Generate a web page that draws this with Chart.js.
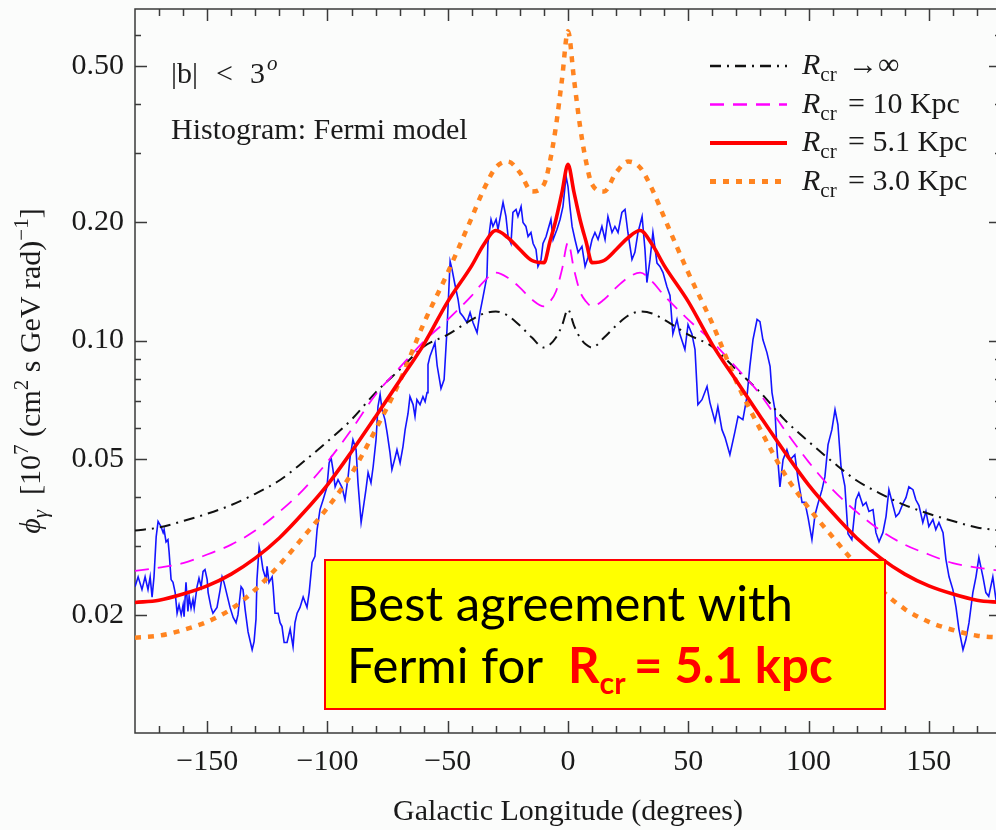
<!DOCTYPE html>
<html>
<head>
<meta charset="utf-8">
<script src="https://cdn.jsdelivr.net/npm/chart.js@4.4.1/dist/chart.umd.min.js"></script>
<style>
  html, body { margin: 0; padding: 0; overflow: hidden; background: #fbfcfb; }
  canvas { display: block; }
</style>
</head>
<body>
<canvas id="flux" width="1010" height="830"></canvas>
<script>
// longitude grid (deg) shared by the four model curves
const modelLon = [-180, -170, -160, -150, -140, -130, -120, -110, -100, -90, -80, -70, -60, -50, -40, -35, -30, -25, -20, -15, -10, -7.5, -5, -2.5,
  0, 2.5, 5, 7.5, 10, 15, 20, 25, 30, 35, 40, 50, 60, 70, 80, 90, 100, 110, 120, 130, 140, 150, 160, 170, 180];

// model fluxes for each cosmic-ray radius
const fluxInf = [0.0328, 0.0334, 0.0347, 0.0362, 0.0381, 0.0407, 0.0440, 0.0491, 0.0553, 0.0629, 0.0737, 0.0843, 0.0965, 0.1036, 0.1131, 0.1172, 0.1186, 0.1158, 0.1092, 0.1018, 0.0960, 0.0977, 0.1018, 0.1092,
  0.1200, 0.1092, 0.1018, 0.0977, 0.0960, 0.1018, 0.1092, 0.1158, 0.1186, 0.1172, 0.1131, 0.1036, 0.0965, 0.0843, 0.0737, 0.0629, 0.0553, 0.0491, 0.0440, 0.0407, 0.0381, 0.0362, 0.0347, 0.0334, 0.0328];
const flux10 = [0.0259, 0.0264, 0.0271, 0.0285, 0.0302, 0.0328, 0.0366, 0.0417, 0.0491, 0.0593, 0.0728, 0.0853, 0.0994, 0.1131, 0.1302, 0.1414, 0.1491, 0.1447, 0.1365, 0.1273, 0.1222, 0.1258, 0.1334, 0.1518,
  0.1780, 0.1518, 0.1334, 0.1258, 0.1222, 0.1273, 0.1365, 0.1447, 0.1491, 0.1414, 0.1302, 0.1131, 0.0994, 0.0853, 0.0728, 0.0593, 0.0491, 0.0417, 0.0366, 0.0328, 0.0302, 0.0285, 0.0271, 0.0264, 0.0259];
const flux51 = [0.0215, 0.0218, 0.0226, 0.0237, 0.0254, 0.0279, 0.0314, 0.0364, 0.0429, 0.0521, 0.0640, 0.0790, 0.0977, 0.1257, 0.1553, 0.1758, 0.1908, 0.1830, 0.1707, 0.1600, 0.1580, 0.1789, 0.2036, 0.2386,
  0.2812, 0.2386, 0.2036, 0.1789, 0.1580, 0.1600, 0.1707, 0.1830, 0.1908, 0.1758, 0.1553, 0.1257, 0.0977, 0.0790, 0.0640, 0.0521, 0.0429, 0.0364, 0.0314, 0.0279, 0.0254, 0.0237, 0.0226, 0.0218, 0.0215];
const flux30 = [0.0175, 0.0177, 0.0183, 0.0192, 0.0207, 0.0232, 0.0268, 0.0316, 0.0375, 0.0458, 0.0593, 0.0786, 0.1105, 0.1490, 0.2060, 0.2430, 0.2760, 0.2860, 0.2680, 0.2400, 0.2500, 0.2860, 0.3520, 0.4630,
  0.6140, 0.4630, 0.3520, 0.2860, 0.2500, 0.2400, 0.2680, 0.2860, 0.2760, 0.2430, 0.2060, 0.1490, 0.1105, 0.0786, 0.0593, 0.0458, 0.0375, 0.0316, 0.0268, 0.0232, 0.0207, 0.0192, 0.0183, 0.0177, 0.0175];

// Fermi histogram (longitude in deg, flux)
const fermiLon = [
  -180, -178.7, -177.1, -175.8, -174.6, -173.7, -172.9, -172.1, -171.2, -170.4,
  -169.2, -168.3, -167.9, -167.1, -166.3, -165.8, -165.0, -164.2, -163.3, -162.5,
  -161.7, -160.8, -160.0, -159.6, -158.8, -158.0, -157.5, -156.7, -155.9, -155.4,
  -154.2, -153.4, -152.5, -151.7, -150.9, -150.0, -149.6, -148.4, -147.6, -145.9,
  -144.6, -143.8, -143.0, -141.3, -140.5, -139.2, -138.0, -137.2, -135.9, -135.1,
  -134.2, -133.0, -131.3, -130.5, -129.7, -129.3, -128.4, -127.6, -126.8, -125.5,
  -125.1, -124.3, -123.0, -122.6, -121.8, -120.5, -119.7, -118.9, -118.0, -116.8,
  -115.5, -114.3, -113.5, -112.6, -111.4, -110.1, -108.5, -107.6, -106.4, -105.2,
  -104.3, -103.1, -101.8, -100.2, -99.3, -98.5, -97.7, -96.8, -95.6, -93.9,
  -92.7, -91.4, -90.6, -89.4, -88.1, -87.3, -86.0, -85.2, -84.0, -83.1,
  -81.9, -81.0, -79.8, -79.0, -78.1, -77.3, -76.1, -75.2, -74.0, -73.2,
  -71.9, -71.1, -69.8, -68.6, -67.7, -66.5, -65.7, -64.4, -63.6, -62.8,
  -61.5, -60.3, -59.4, -58.6, -58.2, -57.4, -55.3, -54.4, -52.8, -51.5,
  -50.3, -49.0, -48.2, -47.0, -45.7, -44.9, -43.6, -42.0, -40.7, -39.5,
  -37.8, -36.6, -35.3, -33.7, -33.3, -32.0, -31.2, -29.9, -29.1, -27.8,
  -27.0, -25.8, -24.9, -23.7, -22.9, -21.6, -20.8, -19.5, -18.7, -17.5,
  -16.6, -15.4, -14.5, -13.3, -12.5, -11.2, -10.4, -9.1, -8.3, -7.1,
  -6.2, -4.6, -3.3, -2.1, -0.8, 0, 0.8, 1.7, 2.9, 4.2,
  5.8, 7.1, 8.3, 10.0, 11.2, 12.5, 14.1, 15.4, 16.6, 18.3,
  19.5, 20.8, 22.4, 23.7, 24.9, 26.6, 27.8, 29.1, 30.8, 32.0,
  32.8, 34.1, 35.3, 37.0, 38.2, 39.5, 41.1, 42.4, 43.6, 45.3,
  46.5, 48.6, 49.9, 51.5, 52.8, 54.0, 55.7, 57.8, 59.0, 61.1,
  62.3, 64.0, 65.3, 67.3, 69.4, 70.7, 72.7, 74.4, 75.6, 76.9,
  78.6, 79.8, 81.0, 82.7, 84.0, 84.8, 86.0, 86.9, 88.1, 89.4,
  91.0, 92.3, 94.3, 95.6, 97.3, 98.5, 99.8, 101.4, 102.7, 103.9,
  105.6, 106.8, 108.1, 109.7, 111.0, 112.2, 113.5, 115.1, 116.4, 118.0,
  119.7, 120.9, 122.6, 123.9, 125.1, 126.8, 128.0, 129.3, 130.9, 132.2,
  133.4, 135.1, 136.3, 137.6, 139.2, 140.5, 141.7, 143.4, 144.6, 145.9,
  147.5, 148.8, 150.0, 151.7, 152.9, 154.2, 155.9, 157.1, 158.4, 160.0,
  161.3, 162.5, 164.2, 165.4, 166.7, 168.3, 169.6, 170.8, 172.5, 173.7,
  174.9, 176.6, 177.9, 180
];
const fermiFlux = [
  0.0236, 0.0250, 0.0232, 0.0250, 0.0232, 0.0250, 0.0222, 0.0250, 0.0316, 0.0346,
  0.0336, 0.0324, 0.0330, 0.0307, 0.0311, 0.0288, 0.0246, 0.0242, 0.0228, 0.0202,
  0.0212, 0.0200, 0.0212, 0.0198, 0.0242, 0.0204, 0.0223, 0.0208, 0.0219, 0.0208,
  0.0236, 0.0248, 0.0236, 0.0258, 0.0261, 0.0246, 0.0228, 0.0209, 0.0202, 0.0209,
  0.0232, 0.0250, 0.0242, 0.0219, 0.0209, 0.0197, 0.0191, 0.0200, 0.0236, 0.0232,
  0.0206, 0.0181, 0.0163, 0.0171, 0.0195, 0.0246, 0.0298, 0.0282, 0.0261, 0.0246,
  0.0266, 0.0242, 0.0250, 0.0236, 0.0202, 0.0202, 0.0191, 0.0187, 0.0170, 0.0170,
  0.0184, 0.0166, 0.0191, 0.0202, 0.0209, 0.0222, 0.0209, 0.0228, 0.0272, 0.0282,
  0.0330, 0.0371, 0.0393, 0.0424, 0.0488, 0.0503, 0.0469, 0.0424, 0.0442, 0.0422,
  0.0393, 0.0450, 0.0503, 0.0559, 0.0527, 0.0434, 0.0344, 0.0371, 0.0417, 0.0461,
  0.0434, 0.0477, 0.0559, 0.0679, 0.0729, 0.0667, 0.0629, 0.0583, 0.0518, 0.0469,
  0.0503, 0.0527, 0.0488, 0.0537, 0.0593, 0.0652, 0.0720, 0.0687, 0.0641, 0.0707,
  0.0687, 0.0720, 0.0699, 0.0737, 0.0869, 0.0911, 0.0988, 0.0864, 0.0755, 0.0796,
  0.1067, 0.1591, 0.1518, 0.1390, 0.1273, 0.1179, 0.1152, 0.1112, 0.1179, 0.1112,
  0.1048, 0.1179, 0.1295, 0.1457, 0.1768, 0.2036, 0.1954, 0.2036, 0.1920, 0.2121,
  0.2250, 0.2072, 0.1842, 0.1768, 0.2121, 0.2159, 0.2072, 0.2196, 0.2000, 0.1954,
  0.1842, 0.1886, 0.1768, 0.1707, 0.1545, 0.1610, 0.1768, 0.1842, 0.1920, 0.2036,
  0.1810, 0.1920, 0.2036, 0.2196, 0.2622, 0.2470, 0.2196, 0.1954, 0.1810, 0.1678,
  0.1738, 0.1545, 0.1629, 0.1810, 0.1886, 0.1810, 0.1954, 0.1810, 0.2072, 0.1886,
  0.1954, 0.1886, 0.2121, 0.2159, 0.1886, 0.1610, 0.1678, 0.1886, 0.2072, 0.1707,
  0.1406, 0.1610, 0.1886, 0.1576, 0.1545, 0.1491, 0.1374, 0.1303, 0.1040, 0.1132,
  0.1040, 0.0949, 0.1099, 0.1040, 0.0949, 0.0687, 0.0707, 0.0764, 0.0695, 0.0622,
  0.0679, 0.0593, 0.0566, 0.0512, 0.0586, 0.0641, 0.0629, 0.0720, 0.0860, 0.1006,
  0.1132, 0.1118, 0.1006, 0.0932, 0.0860, 0.0737, 0.0667, 0.0527, 0.0424, 0.0497,
  0.0527, 0.0497, 0.0512, 0.0445, 0.0387, 0.0387, 0.0354, 0.0311, 0.0360, 0.0384,
  0.0417, 0.0450, 0.0543, 0.0593, 0.0667, 0.0611, 0.0477, 0.0426, 0.0322, 0.0311,
  0.0393, 0.0409, 0.0380, 0.0387, 0.0367, 0.0371, 0.0324, 0.0307, 0.0324, 0.0356,
  0.0417, 0.0380, 0.0356, 0.0363, 0.0384, 0.0398, 0.0424, 0.0417, 0.0393, 0.0380,
  0.0344, 0.0367, 0.0336, 0.0350, 0.0330, 0.0344, 0.0324, 0.0277, 0.0250, 0.0232,
  0.0209, 0.0184, 0.0163, 0.0173, 0.0191, 0.0228, 0.0250, 0.0280, 0.0250, 0.0228,
  0.0223, 0.0250, 0.0219, 0.0235
];

// axis ticks
const xMajor = [-150, -100, -50, 0, 50, 100, 150];
const xMinor = [-170, -160, -140, -130, -120, -110, -90, -80, -70, -60, -40, -30, -20, -10,
  10, 20, 30, 40, 60, 70, 80, 90, 110, 120, 130, 140, 160, 170];
const yMajor = [0.02, 0.05, 0.1, 0.2, 0.5];
const yMinor = [0.03, 0.04, 0.06, 0.07, 0.08, 0.09, 0.3, 0.4, 0.6];

const SERIF = "'Liberation Serif', 'Times New Roman', serif";
const BOX_FONT = "Lato, 'Open Sans', sans-serif";

const pts = (xs, ys) => xs.map((x, i) => ({ x, y: ys[i] }));

// legend rows: label after the "R_cr" part, style copied from the dataset
const legendRows = [
  { tail: '\u2192\u221E', ds: 1 },
  { tail: '= 10 Kpc', ds: 2 },
  { tail: '= 5.1 Kpc', ds: 3 },
  { tail: '= 3.0 Kpc', ds: 4 }
];

const fmtLon = v => (v < 0 ? '\u2212' + Math.abs(v) : String(v));

// background colour
const paper = {
  id: 'paper',
  beforeDraw(chart) {
    const { ctx, width, height } = chart;
    ctx.save();
    ctx.fillStyle = '#fbfcfb';
    ctx.fillRect(0, 0, width, height);
    ctx.restore();
  }
};

// frame with inward ticks on all four sides
const frame = {
  id: 'frame',
  beforeDatasetsDraw(chart) {
    const { ctx, chartArea: a, scales: { x, y } } = chart;
    ctx.save();
    ctx.strokeStyle = '#3a3a3a';
    ctx.lineWidth = 1.5;
    ctx.strokeRect(a.left, a.top, a.right - a.left, a.bottom - a.top);
    ctx.beginPath();
    const xt = (v, len) => {
      const px = Math.round(x.getPixelForValue(v)) + 0.5;
      ctx.moveTo(px, a.bottom); ctx.lineTo(px, a.bottom - len);
      ctx.moveTo(px, a.top); ctx.lineTo(px, a.top + len);
    };
    const yt = (v, len) => {
      const py = Math.round(y.getPixelForValue(v)) + 0.5;
      ctx.moveTo(a.left, py); ctx.lineTo(a.left + len, py);
      ctx.moveTo(a.right, py); ctx.lineTo(a.right - len, py);
    };
    xMajor.forEach(v => xt(v, 12));
    xMinor.forEach(v => xt(v, 7));
    yMajor.forEach(v => yt(v, 12));
    yMinor.forEach(v => yt(v, 6));
    ctx.stroke();
    ctx.restore();
  }
};

// draws a run of text pieces: [text, font, dy, color]
function drawRun(ctx, x, y, pieces) {
  let cx = x;
  pieces.forEach(([t, font, dy, color]) => {
    ctx.font = font;
    ctx.fillStyle = color || '#1a1a1a';
    ctx.fillText(t, cx, y + (dy || 0));
    cx += ctx.measureText(t).width;
  });
  return cx;
}

function runWidth(ctx, pieces) {
  let w = 0;
  pieces.forEach(([t, font]) => { ctx.font = font; w += ctx.measureText(t).width; });
  return w;
}

const notes = {
  id: 'notes',
  afterDatasetsDraw(chart) {
    const { ctx, chartArea: a } = chart;
    ctx.save();
    ctx.textBaseline = 'alphabetic';
    ctx.textAlign = 'left';

    // y axis title, rotated
    const big = `30px ${SERIF}`, small = `21px ${SERIF}`;
    const ital = `italic 30px ${SERIF}`, italSmall = `italic 21px ${SERIF}`;
    const yTitle = [
      ['\u03D5', ital, 0], ['\u03B3', italSmall, 7], ['  [10', big, 0], ['7', small, -12],
      [' (cm', big, 0], ['2', small, -12], [' s GeV rad)', big, 0], ['\u22121', small, -12], [']', big, 0]
    ];
    const tw = runWidth(ctx, yTitle);
    ctx.save();
    ctx.translate(40, (a.top + a.bottom) / 2);
    ctx.rotate(-Math.PI / 2);
    drawRun(ctx, -tw / 2, 0, yTitle);
    ctx.restore();

    // region and histogram notes
    ctx.font = big;
    ctx.fillStyle = '#1a1a1a';
    ctx.fillText('|b|', 171, 83);
    ctx.fillText('<', 216, 83);
    ctx.fillText('3', 250, 83);
    ctx.font = italSmall;
    ctx.fillText('o', 267, 70);
    ctx.font = big;
    ctx.fillText('Histogram: Fermi model', 171, 139);

    // legend
    legendRows.forEach((row, i) => {
      const ds = chart.data.datasets[row.ds];
      const cy = 66 + i * 38.5;
      ctx.save();
      ctx.strokeStyle = ds.borderColor;
      ctx.lineWidth = ds.borderWidth + 0.5;
      ctx.setLineDash(ds.borderDash || []);
      ctx.beginPath();
      ctx.moveTo(710, cy);
      ctx.lineTo(787, cy);
      ctx.stroke();
      ctx.restore();
      drawRun(ctx, 802, cy + 8, [['R', ital, 0], ['cr', small, 7]]);
      ctx.font = big;
      ctx.fillStyle = '#1a1a1a';
      ctx.fillText(row.tail, 848, cy + 8);
    });

    // highlighted conclusion box
    ctx.fillStyle = '#ffff00';
    ctx.fillRect(325, 560, 560, 149);
    ctx.strokeStyle = '#ff0000';
    ctx.lineWidth = 2;
    ctx.strokeRect(325, 560, 560, 149);

    const line1 = 'Best agreement with';
    ctx.font = `50px ${BOX_FONT}`;
    const size = 50 * 446 / ctx.measureText(line1).width;
    ctx.font = `${size}px ${BOX_FONT}`;
    ctx.fillStyle = '#000';
    ctx.fillText(line1, 347, 621);
    ctx.fillText('Fermi for', 347, 683);
    const bold = `bold ${size}px ${BOX_FONT}`;
    const boldSmall = `bold ${size * 0.62}px ${BOX_FONT}`;
    drawRun(ctx, 568, 683, [['R', bold, 0, '#ff0000'], ['cr', boldSmall, 11, '#ff0000']]);
    ctx.font = bold;
    ctx.fillStyle = '#ff0000';
    ctx.fillText('= 5.1 kpc', 634, 683);

    ctx.restore();
  }
};

const ctx = document.getElementById('flux').getContext('2d');
const chart = new Chart(ctx, {
  type: 'line',
  data: {
    datasets: [
      {
        label: 'Fermi',
        data: pts(fermiLon, fermiFlux),
        borderColor: '#1414ff',
        borderWidth: 1.6,
        tension: 0,
        order: 5
      },
      {
        label: 'Rcr inf',
        data: pts(modelLon, fluxInf),
        borderColor: '#111111',
        borderWidth: 2,
        borderDash: [11, 6, 2, 6],
        cubicInterpolationMode: 'monotone',
        order: 4
      },
      {
        label: 'Rcr 10',
        data: pts(modelLon, flux10),
        borderColor: '#ff00ff',
        borderWidth: 1.8,
        borderDash: [14, 9],
        cubicInterpolationMode: 'monotone',
        order: 3
      },
      {
        label: 'Rcr 5.1',
        data: pts(modelLon, flux51),
        borderColor: '#ff0000',
        borderWidth: 3.6,
        cubicInterpolationMode: 'monotone',
        order: 1
      },
      {
        label: 'Rcr 3.0',
        data: pts(modelLon, flux30),
        borderColor: '#ff8420',
        borderWidth: 4.5,
        borderDash: [6, 7],
        borderCapStyle: 'butt',
        cubicInterpolationMode: 'monotone',
        order: 2
      }
    ]
  },
  options: {
    responsive: false,
    animation: false,
    events: [],
    elements: { point: { radius: 0 } },
    layout: { padding: { top: 9, right: 9, left: 0, bottom: 0 } },
    plugins: { legend: { display: false }, tooltip: { enabled: false } },
    scales: {
      x: {
        type: 'linear',
        min: -180,
        max: 180,
        afterBuildTicks: s => { s.ticks = xMajor.map(v => ({ value: v })); },
        afterFit: s => { s.height = 97; s.paddingLeft = 0; s.paddingRight = 0; },
        grid: { display: false, drawTicks: false },
        border: { display: false },
        ticks: {
          padding: 11,
          color: '#1a1a1a',
          maxRotation: 0,
          autoSkip: false,
          font: { family: SERIF, size: 30 },
          callback: v => fmtLon(v)
        },
        title: {
          display: true,
          text: 'Galactic Longitude (degrees)',
          color: '#1a1a1a',
          font: { family: SERIF, size: 30 },
          padding: { top: 0, bottom: 0 }
        }
      },
      y: {
        type: 'logarithmic',
        min: 0.01,
        max: 0.7,
        afterBuildTicks: s => { s.ticks = yMajor.map(v => ({ value: v })); },
        afterFit: s => { s.width = 135; s.paddingTop = 0; s.paddingBottom = 0; },
        grid: { display: false, drawTicks: false },
        border: { display: false },
        ticks: {
          padding: 11,
          color: '#1a1a1a',
          font: { family: SERIF, size: 30 },
          callback: v => Number(v).toFixed(2)
        }
      }
    }
  },
  plugins: [paper, frame, notes]
});
</script>
</body>
</html>
